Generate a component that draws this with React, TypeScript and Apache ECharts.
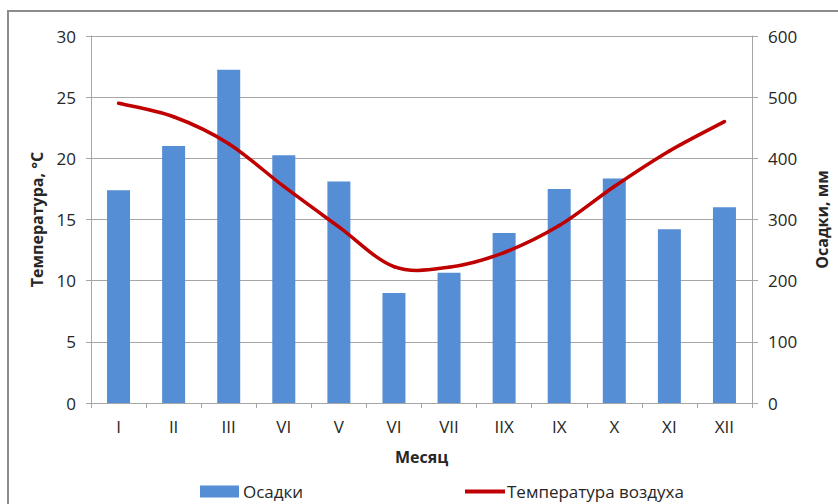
import React, { useEffect, useRef } from "react";
import * as echarts from "echarts";

const months = ["I", "II", "III", "VI", "V", "VI", "VII", "IIX", "IX", "X", "XI", "XII"];
const precipitation = [348, 420, 545, 405, 362, 180, 213, 278, 350, 367, 284, 320];
const temperature = [24.5, 23.4, 21.2, 17.7, 14.4, 11.15, 11.1, 12.3, 14.5, 17.7, 20.6, 23.0];

const FONT = "'Open Sans', 'Noto Sans', sans-serif";
const TEXT = "#262626";
const GRID = "#a6a6a6";
const RED = "#c00000";

export default function App() {
  const ref = useRef<HTMLDivElement>(null);
  useEffect(() => {
    if (!ref.current) return;
    const chart = echarts.init(ref.current, null, { renderer: "svg" });
    const n = temperature.length;
    chart.setOption({
      animation: false,
      backgroundColor: "#ffffff",
      textStyle: { fontFamily: FONT },
      graphic: [
        {
          type: "rect",
          shape: { x: 8, y: 11, width: 900, height: 600 },
          style: { fill: "none", stroke: "#8c8c8c", lineWidth: 2 },
          silent: true,
        },
      ],
      grid: { left: 91, right: 82, top: 36, bottom: 101 },
      legend: [
        {
          data: ["Осадки"],
          left: 200,
          top: 483,
          padding: 0,
          icon: "rect",
          itemWidth: 39,
          itemHeight: 12,
          itemGap: 5,
          textStyle: { fontFamily: FONT, fontSize: 17, lineHeight: 17, color: TEXT, padding: [0, 0, 0, -1] },
        },
        {
          data: ["Температура воздуха"],
          left: 465,
          top: 483,
          padding: 0,
          icon: "rect",
          itemWidth: 40,
          itemHeight: 4,
          textStyle: { fontFamily: FONT, fontSize: 17, lineHeight: 17, color: TEXT, padding: [0, 0, 0, -3] },
        },
      ],
      xAxis: {
        type: "category",
        data: months,
        boundaryGap: true,
        name: "Месяц",
        nameLocation: "middle",
        nameGap: 46,
        nameTextStyle: { fontFamily: FONT, fontSize: 16, fontWeight: "bold", color: TEXT },
        axisLine: { lineStyle: { color: GRID, width: 1 } },
        axisTick: { show: true, length: 5, alignWithLabel: false, lineStyle: { color: GRID } },
        axisLabel: { fontFamily: FONT, fontSize: 17, color: TEXT, margin: 15 },
        splitLine: { show: false },
      },
      yAxis: [
        {
          type: "value",
          min: 0,
          max: 30,
          interval: 5,
          name: "Температура, °C",
          nameLocation: "middle",
          nameRotate: 90,
          nameGap: 46,
          nameTextStyle: { fontFamily: FONT, fontSize: 16, fontWeight: "bold", color: TEXT },
          axisLine: { show: true, lineStyle: { color: GRID, width: 1 } },
          axisTick: { show: true, length: 5, lineStyle: { color: GRID } },
          axisLabel: { fontFamily: FONT, fontSize: 17, color: TEXT, margin: 15 },
          splitLine: { show: true, lineStyle: { color: GRID, width: 1 } },
        },
        {
          type: "value",
          min: 0,
          max: 600,
          interval: 100,
          position: "right",
          name: "Осадки, мм",
          nameLocation: "middle",
          nameRotate: 90,
          nameGap: 62,
          nameTextStyle: { fontFamily: FONT, fontSize: 16, fontWeight: "bold", color: TEXT },
          axisLine: { show: true, lineStyle: { color: GRID, width: 1 } },
          axisTick: { show: true, length: 6, lineStyle: { color: GRID } },
          axisLabel: { fontFamily: FONT, fontSize: 17, color: TEXT, margin: 16 },
          splitLine: { show: false },
        },
      ],
      series: [
        {
          name: "Осадки",
          type: "bar",
          yAxisIndex: 1,
          data: precipitation,
          barWidth: 23,
          itemStyle: { color: "#558ed5" },
        },
        {
          name: "Температура воздуха",
          type: "custom",
          yAxisIndex: 0,
          xAxisIndex: 0,
          data: temperature.map((v, i) => [i, v]),
          encode: { x: 0, y: 1 },
          itemStyle: { color: RED },
          z: 3,
          renderItem: (params: any, api: any) => {
            const i = params.dataIndex;
            if (i >= n - 1) return null;
            const pt = (k: number) => {
              const kk = Math.max(0, Math.min(n - 1, k));
              return api.coord([kk, temperature[kk]]);
            };
            const p0 = pt(i - 1);
            const p1 = pt(i);
            const p2 = pt(i + 1);
            const p3 = pt(i + 2);
            const cp1 = [p1[0] + (p2[0] - p0[0]) / 6, p1[1] + (p2[1] - p0[1]) / 6];
            const cp2 = [p2[0] - (p3[0] - p1[0]) / 6, p2[1] - (p3[1] - p1[1]) / 6];
            return {
              type: "bezierCurve",
              shape: {
                x1: p1[0],
                y1: p1[1],
                x2: p2[0],
                y2: p2[1],
                cpx1: cp1[0],
                cpy1: cp1[1],
                cpx2: cp2[0],
                cpy2: cp2[1],
              },
              style: { stroke: RED, lineWidth: 3.5, fill: null, lineCap: "round" },
            };
          },
        },
      ],
    });
    return () => chart.dispose();
  }, []);
  return (
    <div
      ref={ref}
      style={{ position: "fixed", left: 0, top: 0, width: 838, height: 504, background: "#fff" }}
    />
  );
}
